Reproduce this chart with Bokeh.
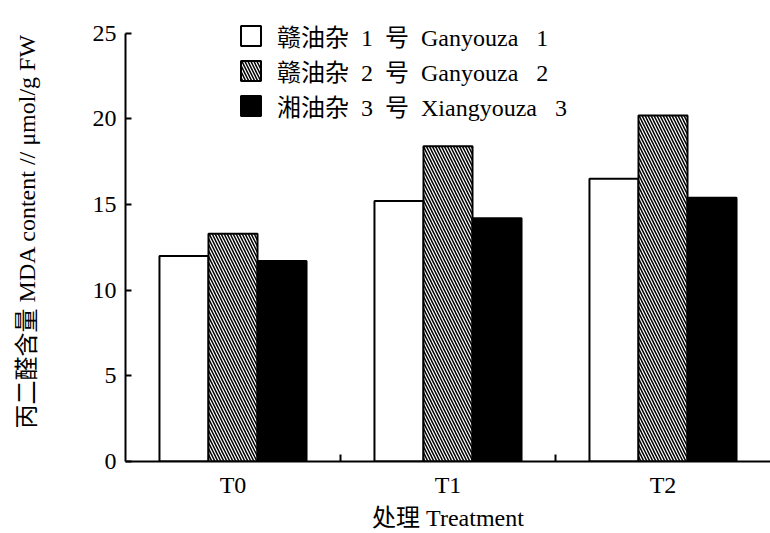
from bokeh.plotting import figure
from bokeh.models import Range1d, FixedTicker, SingleIntervalTicker, Legend, LegendItem
from bokeh.embed import file_html
from bokeh.resources import INLINE

# MDA content (μmol/g FW) per treatment and cultivar
treatments = ["T0", "T1", "T2"]
ganyouza1 = [12.0, 15.2, 16.5]
ganyouza2 = [13.3, 18.4, 20.2]
xiangyouza3 = [11.7, 14.2, 15.4]
# en spaces give the wide half-width gaps of the legend labels
series_names = ["赣油杂\u20021\u2002号\u2002Ganyouza\u2002 1",
                "赣油杂\u20022\u2002号\u2002Ganyouza\u2002 2",
                "湘油杂\u20023\u2002号\u2002Xiangyouza\u2002 3"]
y_ticks_max = 25

FONT = "'Liberation Serif', 'Noto Sans CJK SC', serif"

# frame reaches the top edge; the axis itself stops at 25
p = figure(width=770, height=533, output_backend="svg", toolbar_location=None,
           x_range=Range1d(0, len(treatments)), y_range=Range1d(0, 26.91),
           min_border_left=125, min_border_right=0, min_border_top=0, min_border_bottom=69)
p.outline_line_color = None
p.xgrid.visible = False
p.ygrid.visible = False
p.background_fill_color = "white"
p.border_fill_color = "white"

bar_w = 0.228
centers = [i + 0.5 for i in range(len(treatments))]

r1 = p.vbar(x=[c - bar_w for c in centers], top=ganyouza1, width=bar_w, bottom=0,
            fill_color="white", line_color="black", line_width=2)
r2 = p.vbar(x=centers, top=ganyouza2, width=bar_w, bottom=0,
            fill_color="white", line_color="black", line_width=2,
            hatch_pattern="\\", hatch_color="black", hatch_scale=6, hatch_weight=1.5)
r3 = p.vbar(x=[c + bar_w for c in centers], top=xiangyouza3, width=bar_w, bottom=0,
            fill_color="black", line_color="black", line_width=2)

# x axis: labels at group centres, tick marks between groups
xa = p.xaxis[0]
xa.ticker = FixedTicker(ticks=centers, minor_ticks=[1, 2])
xa.major_label_overrides = {c: t for c, t in zip(centers, treatments)}
xa.major_tick_in = 0
xa.major_tick_out = 0
xa.minor_tick_in = 7
xa.minor_tick_out = 0
xa.minor_tick_line_width = 2
xa.axis_line_width = 2
xa.axis_label = "处理 Treatment"
xa.major_label_standoff = 10
xa.axis_label_standoff = 4

ya = p.yaxis[0]
ya.ticker = SingleIntervalTicker(interval=5)
ya.bounds = (0, y_ticks_max)
ya.major_tick_in = 6
ya.major_tick_out = 0
ya.minor_tick_in = 0
ya.minor_tick_out = 0
ya.major_tick_line_width = 2
ya.axis_line_width = 2
ya.axis_label = "丙二醛含量 MDA content // μmol/g FW"
ya.major_label_standoff = 9
ya.axis_label_standoff = 50

for ax in (xa, ya):
    ax.axis_line_color = "black"
    ax.major_tick_line_color = "black"
    ax.minor_tick_line_color = "black"
    ax.major_label_text_font = FONT
    ax.major_label_text_font_size = "24px"
    ax.major_label_text_color = "black"
    ax.axis_label_text_font = FONT
    ax.axis_label_text_font_size = "24px"
    ax.axis_label_text_font_style = "normal"
    ax.axis_label_text_color = "black"

legend = Legend(items=[LegendItem(label=n, renderers=[r]) for n, r in zip(series_names, [r1, r2, r3])],
                location=(113, 338), padding=0, margin=0, spacing=0,
                glyph_width=25, glyph_height=25, label_height=24, label_standoff=14,
                label_text_font=FONT, label_text_font_size="24px", label_text_color="black",
                border_line_color=None, background_fill_alpha=0)
p.add_layout(legend)

open("out.html", "w").write(file_html(p, INLINE))
